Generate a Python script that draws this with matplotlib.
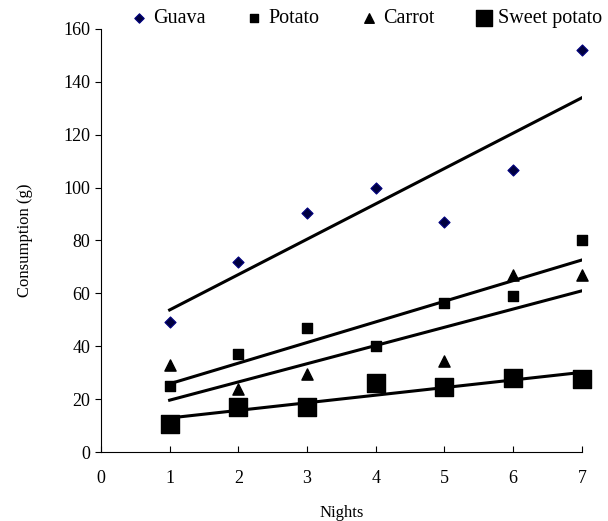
import matplotlib
matplotlib.use("Agg")
import matplotlib.pyplot as plt
import numpy as np

plt.rcParams['font.family'] = ['Liberation Serif', 'DejaVu Serif']

nights = [1, 2, 3, 4, 5, 6, 7]
guava = [49, 72, 90.5, 100, 87, 106.5, 152]
potato = [25, 37, 47, 40, 56.5, 59, 80]
carrot = [33, 24, 29.5, 27, 34.5, 67, 67]
sweet_potato = [10.5, 17, 17, 26, 24.5, 28, 27.5]


def trend(ax, x, y):
    k, b = np.polyfit(x, y, 1)
    xs = np.array([x[0], x[-1]])
    ax.plot(xs, k * xs + b, color='black', lw=2.2, zorder=2)


def main():
    fig = plt.figure(figsize=(6.08, 5.21), dpi=100)
    ax = fig.add_axes([0.166, 0.1324, 0.791, 0.812])

    ax.scatter(nights, guava, marker='D', s=32, color='#000040',
               edgecolors='#000080', linewidths=0.8, label='Guava',
               zorder=3, clip_on=False)
    ax.scatter(nights, potato, marker='s', s=45, color='black',
               label='Potato', zorder=3, clip_on=False)
    ax.scatter(nights, carrot, marker='^', s=65, color='black',
               label='Carrot', zorder=3, clip_on=False)
    ax.scatter(nights, sweet_potato, marker='s', s=170, color='black',
               label='Sweet potato', zorder=4, clip_on=False)

    for ys in (guava, potato, carrot, sweet_potato):
        trend(ax, nights, ys)

    ax.set_xlim(0, 7)
    ax.set_ylim(0, 160)
    ax.set_xticks(range(0, 8))
    ax.set_yticks(range(0, 161, 20))
    ax.spines['top'].set_visible(False)
    ax.spines['right'].set_visible(False)
    ax.tick_params(axis='x', direction='in', length=4, labelsize=13, pad=13)
    ax.tick_params(axis='y', direction='out', length=4, labelsize=13)
    ax.set_xlabel('Nights', fontsize=12, labelpad=13)
    ax.set_ylabel('Consumption (g)', fontsize=12, labelpad=22)

    ax.legend(loc='upper right', bbox_to_anchor=(1.0, 0.994),
              bbox_transform=fig.transFigure, ncol=4, frameon=False,
              fontsize=14.5, handlelength=0.8, handletextpad=0.3,
              columnspacing=2.05, borderaxespad=0.1, borderpad=0.2,
              markerscale=0.85)

    fig.savefig('out.png', dpi=100)


if __name__ == "__main__":
    main()
